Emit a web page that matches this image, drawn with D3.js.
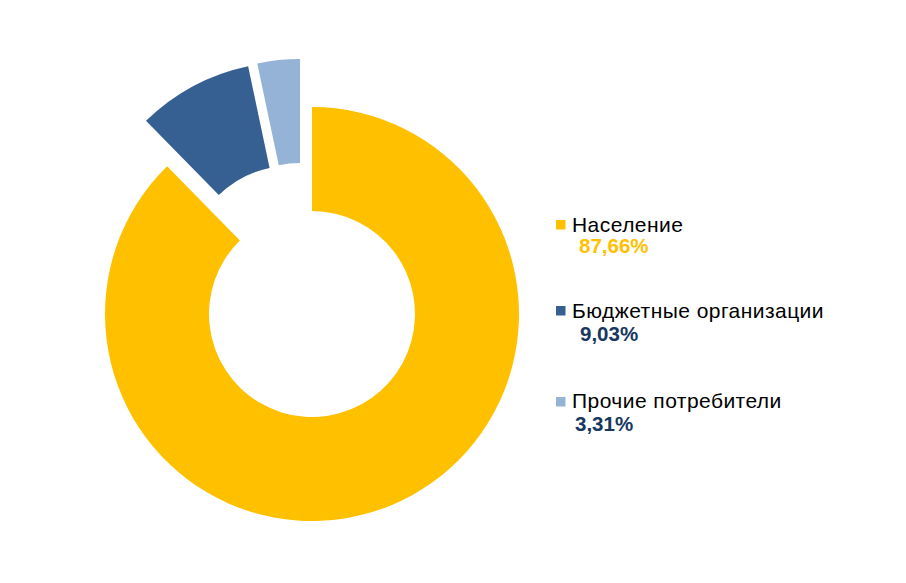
<!DOCTYPE html>
<html><head><meta charset="utf-8">
<script src="https://cdn.jsdelivr.net/npm/d3@7"></script>
<style>html,body{margin:0;padding:0;background:#fff;}svg{display:block;}</style>
</head><body>
<script>
const categories = ["Население", "Бюджетные организации", "Прочие потребители"];
const values = [87.66, 9.03, 3.31];
const valueLabels = ["87,66%", "9,03%", "3,31%"];

const colors = ["#FFC000", "#376092", "#95B3D7"];
const pctColors = ["#FFC000", "#17375E", "#17375E"];
// explosion: distance (px) and direction (deg, clockwise from 12 o'clock)
const explode = [{d:0,a:0},{d:50,a:335},{d:49.5,a:346}];

const W = 906, H = 583;
const cx = 312, cy = 314, R = 207, r = 103;

const svg = d3.select("body").append("svg").attr("width", W).attr("height", H);

const pie = d3.pie().sort(null).value(d => d)(values);
const arc = d3.arc().innerRadius(r).outerRadius(R);

const g = svg.append("g").attr("transform", `translate(${cx},${cy})`);
g.selectAll("path").data(pie).join("path")
  .attr("d", arc)
  .attr("fill", (d,i) => colors[i])
  .attr("transform", (d,i) => {
    const e = explode[i], t = e.a * Math.PI/180;
    return `translate(${e.d*Math.sin(t)},${-e.d*Math.cos(t)})`;
  });

// legend
const rows = [
  {my:220, ty:232, py:253, px:579},
  {my:306, ty:318, py:341, px:580},
  {my:397, ty:408, py:431, px:575}
];
const lg = svg.append("g");
categories.forEach((c,i) => {
  lg.append("rect").attr("x",556).attr("y",rows[i].my).attr("width",9.5).attr("height",9.5).attr("fill",colors[i]);
  lg.append("text").attr("x",572).attr("y",rows[i].ty)
    .attr("font-family","Liberation Sans, Arial, sans-serif").attr("font-size",21)
    .attr("letter-spacing",0.45).attr("fill","#000").text(c);
  lg.append("text").attr("x",rows[i].px).attr("y",rows[i].py)
    .attr("font-family","Liberation Sans, Arial, sans-serif").attr("font-size",20.5).attr("font-weight","bold")
    .attr("fill",pctColors[i]).text(valueLabels[i]);
});
</script>
</body></html>
